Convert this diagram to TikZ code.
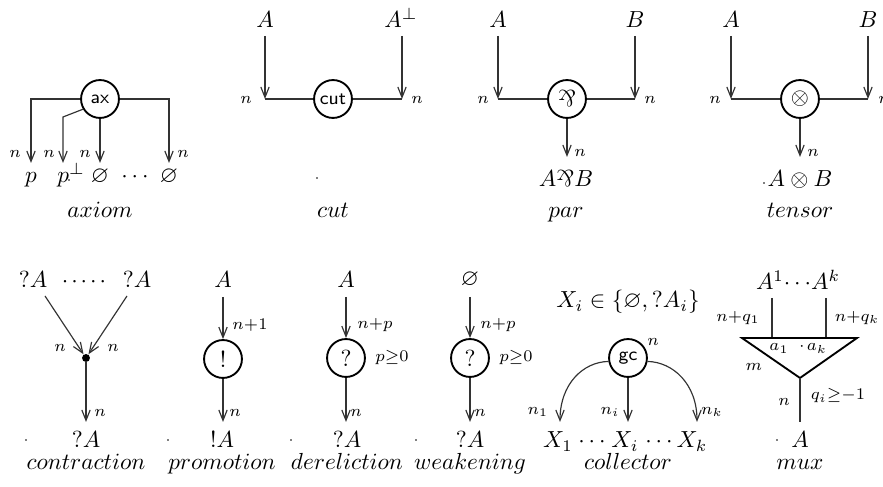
\documentclass[tikz,border=0pt]{standalone}
\usepackage{amssymb}
\usepackage{graphicx}
\usetikzlibrary{arrows.meta}
\newcommand{\parrsym}{\rotatebox[origin=c]{180}{$\&$}}
\newcommand{\sm}[1]{$\scriptstyle #1$}
\begin{document}
\begin{tikzpicture}[x=0.43pt,y=-0.43pt,
  wire/.style={line width=0.5pt,draw=black!80},
  arr/.style={wire,-{Straight Barb[length=4.5pt,width=3.6pt]}},
  gate/.style={circle,draw=black,line width=0.8pt,minimum size=16.3pt,inner sep=0pt},
  gtxt/.style={gate,font=\footnotesize\sffamily},
  txt/.style={anchor=base,inner sep=0pt},
  lab/.style={inner sep=0pt},
  speck/.style={circle,fill=black,inner sep=0pt,minimum size=0.7pt},
  jdot/.style={circle,fill=black,inner sep=0pt,minimum size=3.4pt}]
\useasboundingbox (0,0) rectangle (883,487);

% ---------------- axiom
\node[gtxt] (ax) at (100,99) {ax};
\coordinate (axL) at (31,99);  \coordinate (axLt) at (31,163);
\coordinate (axB) at (63,117); \coordinate (axBt) at (63,163);
\coordinate (axCt) at (100,163);
\coordinate (axR) at (169,99); \coordinate (axRt) at (169,163);
\draw[arr] (ax.west) -- (axL) -- (axLt);
\draw[arr] (ax.211) -- (axB) -- (axBt);
\draw[arr] (ax.south) -- (axCt);
\draw[arr] (ax.east) -- (axR) -- (axRt);
\node[lab] (axn1) at (15,154) {\sm{n}};
\node[lab] (axn2) at (49,154) {\sm{n}};
\node[lab] (axn3) at (85,154) {\sm{n}};
\node[lab] (axn4) at (183,154) {\sm{n}};
\node[txt] (axp) at (31,183) {$p$};
\node[txt,anchor=base west] (axpp) at (57,183) {$p^{\perp}$};
\node[speck] (axs) at (69,180) {};
\node[txt] (axe1) at (100,183) {$\varnothing$};
\node[txt] (axd) at (135,183) {$\cdots$};
\node[txt] (axe2) at (169,183) {$\varnothing$};
\node[txt] (axcap) at (100,218) {$axiom$};

% ---------------- cut
\node[gtxt] (cut) at (333,99) {cut};
\node[txt] (cA) at (265,28) {$A$};
\node[txt] (cAp) at (401,28) {$A^{\perp}$};
\coordinate (cAs) at (265,36); \coordinate (cL) at (265,99);
\coordinate (cAps) at (402,36); \coordinate (cR) at (402,99);
\draw[arr] (cAs) -- (cL);
\draw[wire] (cL) -- (cut.west);
\draw[wire] (cut.east) -- (cR);
\draw[arr] (cAps) -- (cR);
\node[lab] (cn1) at (246,100) {\sm{n}};
\node[lab] (cn2) at (417,100) {\sm{n}};
\node[speck] (cs) at (317,178) {};
\node[txt] (ccap) at (333,218) {$cut$};

% ---------------- par
\node[gate] (par) at (567,99) {\parrsym};
\node[txt] (pA) at (498,28) {$A$};
\node[txt] (pB) at (635,28) {$B$};
\coordinate (pAs) at (498,36); \coordinate (pL) at (498,99);
\coordinate (pBs) at (635,36); \coordinate (pR) at (635,99);
\coordinate (pDt) at (567,157);
\draw[arr] (pAs) -- (pL);
\draw[wire] (pL) -- (par.west);
\draw[wire] (par.east) -- (pR);
\draw[arr] (pBs) -- (pR);
\draw[arr] (par.south) -- (pDt);
\node[lab] (pn1) at (483,100) {\sm{n}};
\node[lab] (pn2) at (650,100) {\sm{n}};
\node[lab] (pn3) at (580,153) {\sm{n}};
\node[txt] (pres) at (566,187) {$A\parrsym B$};
\node[txt] (pcap) at (566,218) {$par$};

% ---------------- tensor
\node[gate] (ten) at (800,99) {$\otimes$};
\node[txt] (tA) at (731,28) {$A$};
\node[txt] (tB) at (868,28) {$B$};
\coordinate (tAs) at (731,36); \coordinate (tL) at (731,99);
\coordinate (tBs) at (868,36); \coordinate (tR) at (868,99);
\coordinate (tDt) at (800,157);
\draw[arr] (tAs) -- (tL);
\draw[wire] (tL) -- (ten.west);
\draw[wire] (ten.east) -- (tR);
\draw[arr] (tBs) -- (tR);
\draw[arr] (ten.south) -- (tDt);
\node[lab] (tn1) at (715,100) {\sm{n}};
\node[lab] (tn2) at (884,100) {\sm{n}};
\node[lab] (tn3) at (813,153) {\sm{n}};
\node[txt] (tres) at (800,187) {$A\otimes B$};
\node[speck] (ts) at (764,183) {};
\node[txt] (tcap) at (800,218) {$tensor$};

% ---------------- contraction
\node[txt] (kA1) at (33,288) {$?A$};
\node[txt] (kdots) at (84,288) {${\cdot}\kern1.3pt{\cdot}\kern1.3pt{\cdot}\kern1.3pt{\cdot}\kern1.3pt{\cdot}$};
\node[txt] (kA2) at (137,288) {$?A$};
\node[jdot] (kd) at (86,358) {};
\coordinate (k1s) at (45,296); \coordinate (k2s) at (127,296);
\coordinate (kDt) at (86,422);
\draw[arr] (k1s) -- (kd);
\draw[arr] (k2s) -- (kd);
\draw[arr] (kd) -- (kDt);
\node[lab] (kn1) at (60,348) {\sm{n}};
\node[lab] (kn2) at (113,348) {\sm{n}};
\node[lab] (kn3) at (100,413) {\sm{n}};
\node[txt] (kres) at (86,448) {$?A$};
\node[speck] (ks) at (26,440) {};
\node[txt] (kcap) at (86,470) {$contraction$};

% ---------------- promotion
\node[txt] (prA) at (223,288) {$A$};
\node[gate] (pr) at (223,359) {!};
\coordinate (prs) at (223,297); \coordinate (prt) at (223,422);
\draw[arr] (prs) -- (pr.north);
\draw[arr] (pr.south) -- (prt);
\node[lab] (prn1) at (250,325) {\sm{n+1}};
\node[lab] (prn2) at (235,413) {\sm{n}};
\node[txt] (prres) at (222,448) {$!A$};
\node[speck] (prsp) at (168,440) {};
\node[txt] (prcap) at (222,470) {$promotion$};

% ---------------- dereliction
\node[txt] (dA) at (346,288) {$A$};
\node[gate] (de) at (346,358) {?};
\coordinate (des) at (346,297); \coordinate (det) at (346,422);
\draw[arr] (des) -- (de.north);
\draw[arr] (de.south) -- (det);
\node[lab] (dn1) at (375,325) {\sm{n+p}};
\node[lab] (dn2) at (392,358) {\sm{p\geq 0}};
\node[lab] (dn3) at (356,413) {\sm{n}};
\node[txt] (dres) at (347,448) {$?A$};
\node[speck] (dsp) at (291,440) {};
\node[txt] (dcap) at (347,470) {$dereliction$};

% ---------------- weakening
\node[txt] (wE) at (470,286) {$\varnothing$};
\node[gate] (we) at (470,358) {?};
\coordinate (wes) at (470,297); \coordinate (wet) at (470,422);
\draw[arr] (wes) -- (we.north);
\draw[arr] (we.south) -- (wet);
\node[lab] (wn1) at (498,325) {\sm{n+p}};
\node[lab] (wn2) at (516,358) {\sm{p\geq 0}};
\node[lab] (wn3) at (480,413) {\sm{n}};
\node[txt] (wres) at (470,448) {$?A$};
\node[speck] (wsp) at (416,440) {};
\node[txt] (wcap) at (470,470) {$weakening$};

% ---------------- collector
\node[txt] (gX) at (628,308) {$X_i\in\{\varnothing,?A_i\}$};
\node[gtxt] (gc) at (628,358) {gc};
\node[lab] (gn) at (653,342) {\sm{n}};
\coordinate (g1t) at (560,422); \coordinate (g2t) at (628,422); \coordinate (g3t) at (697,422);
\draw[arr] (gc.190) .. controls (583,362) and (560,384) .. (g1t);
\draw[arr] (gc.south) -- (g2t);
\draw[arr] (gc.350) .. controls (673,362) and (697,384) .. (g3t);
\node[lab] (gn1) at (538,412) {\sm{n_1}};
\node[lab] (gn2) at (610,412) {\sm{n_i}};
\node[lab] (gn3) at (712,412) {\sm{n_k}};
\node[txt] (gX1) at (558,448) {$X_1$};
\node[txt] (gd1) at (592,448) {$\cdots$};
\node[txt] (gXi) at (625,448) {$X_i$};
\node[txt] (gd2) at (659,448) {$\cdots$};
\node[txt] (gXk) at (692,448) {$X_k$};
\node[txt] (gcap) at (628,470) {$collector$};

% ---------------- mux
\node[txt] (mA) at (798,290) {$A^{1}\!\cdots\! A^{k}$};
\coordinate (m1s) at (772,298); \coordinate (m1t) at (772,338);
\coordinate (m2s) at (826,298); \coordinate (m2t) at (826,338);
\coordinate (mxL) at (742,338); \coordinate (mxR) at (857,338); \coordinate (mxA) at (800,378);
\coordinate (mxt) at (800,422);
\draw[wire] (m1s) -- (m1t);
\draw[wire] (m2s) -- (m2t);
\draw[line width=0.8pt,line join=miter] (mxL) -- (mxR) -- (mxA) -- cycle;
\draw[wire] (mxA) -- (mxt);
\node[lab] (mq1) at (738,318) {\sm{n+q_1}};
\node[lab] (mqk) at (857,318) {\sm{n+q_k}};
\node[lab,anchor=base] (ma1) at (779,351) {\sm{a_1}};
\node[lab,anchor=base] (mad) at (802,351) {\sm{\cdot}};
\node[lab,anchor=base] (mak) at (817,351) {\sm{a_k}};
\node[lab] (mm) at (754,367) {\sm{m}};
\node[lab] (mn) at (784,402) {\sm{n}};
\node[lab] (mq) at (838,396) {\sm{q_i\geq -1}};
\node[txt] (mres) at (800,448) {$A$};
\node[speck] (msp) at (777,440) {};
\node[txt] (mcap) at (800,470) {$mux$};
\end{tikzpicture}
\end{document}
